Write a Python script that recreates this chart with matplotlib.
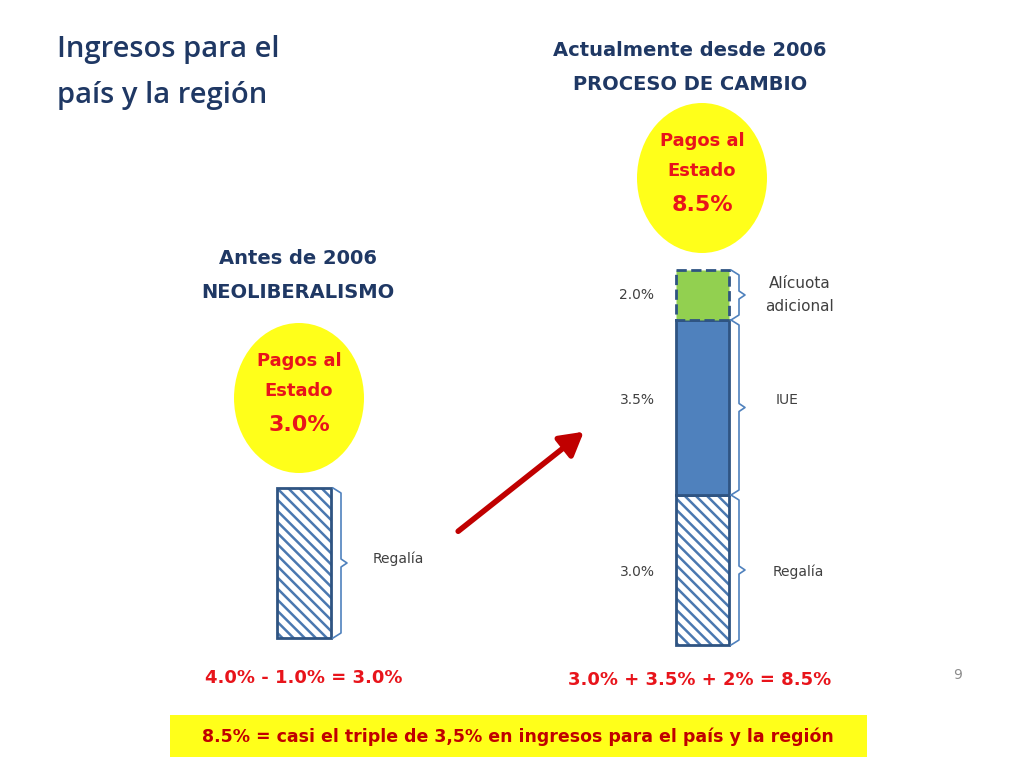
import matplotlib.pyplot as plt
from matplotlib.patches import Rectangle, Ellipse, FancyArrowPatch

plt.rcParams["hatch.linewidth"] = 1.8

# data
antes_labels = ["Regalía"]
antes_values = [3.0]
ahora_labels = ["Regalía", "IUE", "Alícuota\nadicional"]
ahora_values = [3.0, 3.5, 2.0]
ahora_draw = [3.0, 3.5, 1.0]   # the slide draws the 2% block at half size
total_antes = 3.0
total_ahora = 8.5

px_per_pct = 50
blue_dark = "#2f5482"
hatch_c = "#4a78b0"
red = "#e8141b"
title_c = "#1f3864"

fig = plt.figure(figsize=(10.24, 7.68), dpi=100)
ax = fig.add_axes([0, 0, 1, 1])
ax.set_xlim(0, 1024)
ax.set_ylim(768, 0)
ax.axis("off")

ax.text(57, 50, "Ingresos para el", fontsize=21, color=title_c, va="center", family="Open Sans", weight="semibold")
ax.text(57, 95, "país y la región", fontsize=21, color=title_c, va="center", family="Open Sans", weight="semibold")
ax.text(690, 50, "Actualmente desde 2006", fontsize=14, color=title_c, ha="center", va="center", weight="bold")
ax.text(690, 85, "PROCESO DE CAMBIO", fontsize=14, color=title_c, ha="center", va="center", weight="bold")
ax.text(298, 259, "Antes de 2006", fontsize=14, color=title_c, ha="center", va="center", weight="bold")
ax.text(298, 293, "NEOLIBERALISMO", fontsize=14, color=title_c, ha="center", va="center", weight="bold")

def bubble(cx, cy, pct):
    ax.add_patch(Ellipse((cx, cy), 130, 150, facecolor="#ffff1a", edgecolor="none"))
    ax.text(cx, cy - 37, "Pagos al", fontsize=13, color=red, ha="center", va="center", weight="bold")
    ax.text(cx, cy - 7, "Estado", fontsize=13, color=red, ha="center", va="center", weight="bold")
    ax.text(cx, cy + 27, f"{pct:.1f}%", fontsize=16, color=red, ha="center", va="center", weight="bold")

bubble(299, 398, total_antes)
bubble(702, 178, total_ahora)

def brace(x, y0, y1):
    mid = (y0 + y1) / 2
    ax.plot([x, x + 8, x + 8, x + 14, x + 8, x + 8, x], [y0, y0 + 5, mid - 4, mid, mid + 4, y1 - 5, y1],
            color="#4f81bd", lw=1.2)

# left bar
bottom = 638
for lab, v in zip(antes_labels, antes_values):
    h = v * px_per_pct
    ax.add_patch(Rectangle((277, bottom - h), 54, h, facecolor="white", edgecolor=hatch_c, hatch="\\\\\\", lw=0))
    ax.add_patch(Rectangle((277, bottom - h), 54, h, facecolor="none", edgecolor=blue_dark, lw=2))
    brace(333, bottom - h, bottom)
    ax.text(373, bottom - h / 2 - 4, lab, fontsize=10, color="#404040", va="center")
    bottom -= h

# right bar
bottom = 645
for i, (lab, v, d) in enumerate(zip(ahora_labels, ahora_values, ahora_draw)):
    h = d * px_per_pct
    y = bottom - h
    if i == 0:
        ax.add_patch(Rectangle((676, y), 53, h, facecolor="white", edgecolor=hatch_c, hatch="\\\\\\", lw=0))
        ax.add_patch(Rectangle((676, y), 53, h, facecolor="none", edgecolor=blue_dark, lw=2))
        ty = y + 77
    elif i == 1:
        ax.add_patch(Rectangle((676, y), 53, h, facecolor="#4f81bd", edgecolor=blue_dark, lw=2))
        ty = y + h / 2 - 8
    else:
        ax.add_patch(Rectangle((676, y), 53, h, facecolor="#92d050", edgecolor=blue_dark, lw=2, linestyle="--"))
        ty = y + h / 2
    brace(731, y, bottom)
    ax.text(637, ty, f"{v:.1f}%", fontsize=10, color="#404040", ha="center", va="center")
    ax.text([798, 787, 800][i], ty, lab, fontsize=11 if i == 2 else 10, color="#404040",
            ha="center", va="center", linespacing=1.6)
    bottom -= h

ax.add_patch(FancyArrowPatch((456, 533), (586, 430), arrowstyle="-|>,head_length=14,head_width=8",
                             color="#c00000", lw=4, mutation_scale=1))

ax.text(304, 678, "4.0% - 1.0% = 3.0%", fontsize=13, color=red, ha="center", va="center", weight="bold")
ax.text(700, 680, "3.0% + 3.5% + 2% = 8.5%", fontsize=13, color=red, ha="center", va="center", weight="bold")
ax.text(958, 675, "9", fontsize=10, color="#8c8c8c", ha="center", va="center")

ax.add_patch(Rectangle((170, 715), 697, 42, facecolor="#ffff1a", edgecolor="none"))
ax.text(518, 737, "8.5% = casi el triple de 3,5% en ingresos para el país y la región", fontsize=12.5,
        color="#c00000", ha="center", va="center", weight="bold")

fig.savefig("out.png", dpi=100)
